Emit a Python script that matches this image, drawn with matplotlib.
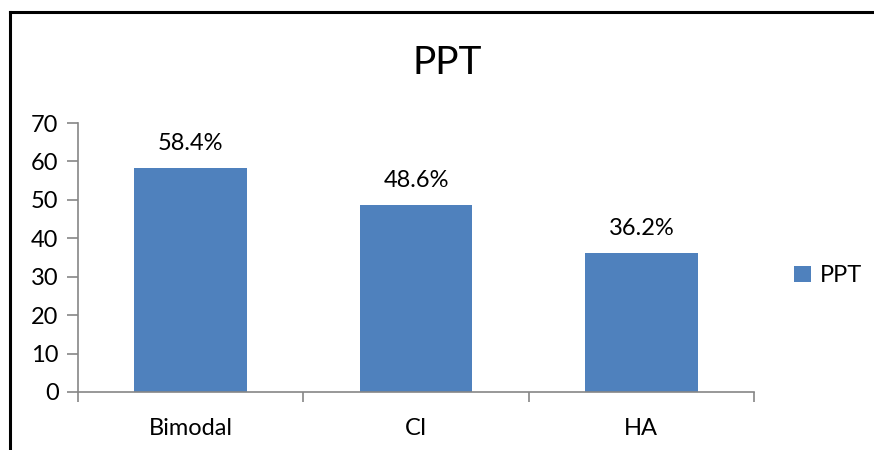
import matplotlib
matplotlib.use("Agg")
import matplotlib.pyplot as plt
from matplotlib.lines import Line2D

# PPT scores per group
categories = ["Bimodal", "CI", "HA"]
values = [58.4, 48.6, 36.2]
labels = ["58.4%", "48.6%", "36.2%"]
yticks = [0, 10, 20, 30, 40, 50, 60, 70]

plt.rcParams['font.family'] = ['Lato', 'DejaVu Sans']

fig = plt.figure(figsize=(8.74, 4.5), dpi=100)
ax = fig.add_axes([78 / 874, 58 / 450, 676 / 874, 269 / 450])

x = list(range(len(categories)))
bars = ax.bar(x, values, width=0.5, color="#4F81BD", label="PPT", zorder=2)

for b, txt in zip(bars, labels):
    ax.annotate(txt, (b.get_x() + b.get_width() / 2, b.get_height()),
                xytext=(0, 10), textcoords="offset points",
                ha="center", va="bottom", fontsize=17)

axis_grey = "#868686"
ax.set_xlim(-0.5, len(categories) - 0.5)
ax.set_ylim(0, 70)
ax.set_yticks(yticks)
ax.set_yticklabels([str(t) for t in yticks], fontsize=17)
ax.set_xticks(x)
ax.set_xticklabels(categories, fontsize=17)
ax.set_xticks([i - 0.5 for i in range(len(categories) + 1)], minor=True)
ax.tick_params(axis="x", which="major", length=0, pad=19)
ax.tick_params(axis="x", which="minor", length=7, color=axis_grey, width=1.2)
ax.tick_params(axis="y", length=8, color=axis_grey, width=1.2, pad=6)

for side in ("top", "right"):
    ax.spines[side].set_visible(False)
for side in ("left", "bottom"):
    ax.spines[side].set_color(axis_grey)
    ax.spines[side].set_linewidth(1.2)

fig.text(447 / 874, 1 - 63 / 450, "PPT", ha="center", va="center", fontsize=28)

leg = fig.legend(handles=[bars], labels=["PPT"], loc="center left",
                 bbox_to_anchor=(773 / 874, 1 - 276 / 450), frameon=False,
                 fontsize=17, handlelength=0.7, handleheight=0.7,
                 handletextpad=0.4)

# frame edges along the top and left
fig.add_artist(Line2D([9.5 / 874, 1.0], [1 - 12 / 450, 1 - 12 / 450],
                      transform=fig.transFigure, color="black", lw=2.2))
fig.add_artist(Line2D([9.5 / 874, 9.5 / 874], [0.0, 1 - 12 / 450],
                      transform=fig.transFigure, color="black", lw=2.2))

fig.savefig("out.png", dpi=100)
